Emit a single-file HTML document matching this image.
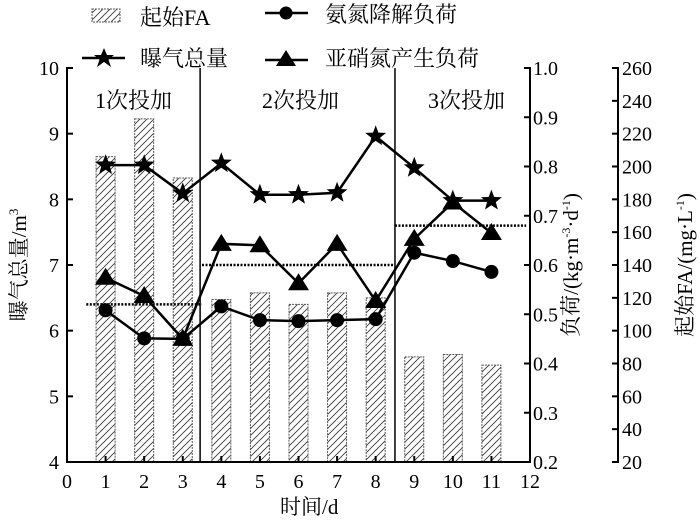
<!DOCTYPE html>
<html><head><meta charset="utf-8"><style>
body{margin:0;background:#fff}
svg text{font-family:"Liberation Serif","Noto Serif CJK SC",serif;fill:#000}
</style></head><body>
<svg id="chart" width="700" height="524" xmlns="http://www.w3.org/2000/svg">
<defs><pattern id="hatch" patternUnits="userSpaceOnUse" width="7" height="7"><path d="M-1,8 L8,-1 M-1,1 L1,-1 M6,8 L8,6" stroke="#333" stroke-width="0.8"/></pattern></defs>
<g id="plot"></g>
</svg>
<script>
const days=[1,2,3,4,5,6,7,8,9,10,11];
const faValues=[206,229,193,119,123,116,123,120,84,85.5,79];
const aeration=[8.52,8.52,8.09,8.55,8.07,8.07,8.1,8.96,8.48,7.98,7.98];
const ammoniaLoad=[0.508,0.451,0.45,0.516,0.488,0.486,0.488,0.49,0.625,0.608,0.586];
const nitriteLoad=[0.574,0.537,0.45,0.643,0.64,0.563,0.643,0.527,0.653,0.727,0.665];
const phaseAvg=[[0.5,3.5,0.52],[3.5,8.5,0.6],[8.5,11.9,0.68]];
const phaseBounds=[3.45,8.5];
const phaseLabels=["1次投加","2次投加","3次投加"];
const xTicks=[0,1,2,3,4,5,6,7,8,9,10,11,12];
const leftTicks=[4,5,6,7,8,9,10];
const loadTicks=[0.2,0.3,0.4,0.5,0.6,0.7,0.8,0.9,1.0];
const faTicks=[20,40,60,80,100,120,140,160,180,200,220,240,260];
const X0=67,X1=530,Y0=462,Y1=68,AX3=618;
const sx=v=>X0+(X1-X0)*v/12;
const syL=v=>Y0-(Y0-Y1)*(v-4)/6;
const syR=v=>Y0-(Y0-Y1)*(v-0.2)/0.8;
const syF=v=>Y0-(Y0-Y1)*(v-20)/240;
const g=document.getElementById('plot');const NS="http://www.w3.org/2000/svg";
function el(t,a,p){const e=document.createElementNS(NS,t);for(const k in a)e.setAttribute(k,a[k]);(p||g).appendChild(e);return e;}
function txt(x,y,s,a){const e=el('text',Object.assign({x:x,y:y,'font-size':20},a||{}));e.textContent=s;return e;}
// bars
const bars=el('g',{});
days.forEach((d,i)=>{const y=syF(faValues[i]);const b=el('rect',{x:sx(d)-9.5,y:y,width:19,height:Y0-y,fill:'url(#hatch)',stroke:'#555','stroke-width':1,'stroke-dasharray':'2,1'},bars);
});
// phase lines
phaseBounds.forEach((p,i)=>{const l=el('line',{x1:sx(p),x2:sx(p),y1:Y1,y2:Y0,stroke:'#000','stroke-width':1.5});});
phaseAvg.forEach(p=>{const l=el('line',{x1:sx(p[0]),x2:sx(p[1]),y1:syR(p[2]),y2:syR(p[2]),stroke:'#000','stroke-width':2.5,'stroke-dasharray':'2,1.5'});});
const lx=[95,262,428];
phaseLabels.forEach((s,i)=>{const t=txt(lx[i],108,s,{'font-size':22});});
// series
function star(cx,cy,r,p){let pts=[];for(let k=0;k<10;k++){const rr=k%2?r*0.42:r;const a=-Math.PI/2+k*Math.PI/5;pts.push((cx+rr*Math.cos(a)).toFixed(1)+','+(cy+rr*Math.sin(a)).toFixed(1));}return el('polygon',{points:pts.join(' '),fill:'#000'},p);}
function tri(cx,cy,r,p){return el('polygon',{points:`${cx},${cy-r} ${cx+r*1.05},${cy+r*0.7} ${cx-r*1.05},${cy+r*0.7}`,fill:'#000'},p);}
function series(vals,sy,name,mk){const s=el('g',{});
el('polyline',{points:days.map((d,i)=>sx(d)+','+sy(vals[i])).join(' '),fill:'none',stroke:'#000','stroke-width':2.5},s);
days.forEach((d,i)=>{const m=mk(sx(d),sy(vals[i]),s);});}
series(aeration,syL,'aeration-series',(x,y,p)=>star(x,y,11,p));
series(nitriteLoad,syR,'nitrite-series',(x,y,p)=>tri(x,y,10,p));
series(ammoniaLoad,syR,'ammonia-series',(x,y,p)=>el('circle',{cx:x,cy:y,r:7,fill:'#000'},p));
// axes
const ax=el('g',{stroke:'#000','stroke-width':2,fill:'none'});
el('path',{d:`M${X0+6},${Y1}H${X0}V${Y0}H${X1}V${Y1}H${X1-6}`},ax);
el('path',{d:`M${AX3-6},${Y1}H${AX3}V${Y0}H${AX3-6}`},ax);
xTicks.forEach(v=>{el('line',{x1:sx(v),x2:sx(v),y1:Y0,y2:Y0-6},ax);const t=txt(sx(v),488,v,{'text-anchor':'middle'});});
leftTicks.forEach(v=>{el('line',{x1:X0,x2:X0+6,y1:syL(v),y2:syL(v)},ax);const t=txt(X0-8,syL(v)+7,v,{'text-anchor':'end'});});
loadTicks.forEach(v=>{el('line',{x1:X1,x2:X1-6,y1:syR(v),y2:syR(v)},ax);const t=txt(X1+3,syR(v)+7,v.toFixed(1));});
faTicks.forEach(v=>{el('line',{x1:AX3,x2:AX3-6,y1:syF(v),y2:syF(v)},ax);const t=txt(AX3+4,syF(v)+7,v);});
</script>
<svg style="position:absolute;left:0;top:0" width="700" height="524" xmlns="http://www.w3.org/2000/svg">
<g font-size="21">
<rect x="92" y="9" width="28" height="13" fill="url(#hatch)" stroke="#555" stroke-dasharray="2,1"/>
<text x="140" y="25" font-size="22">起始FA</text>
<line x1="265" x2="308" y1="13" y2="13" stroke="#000" stroke-width="2.5"/><circle cx="286" cy="13" r="6.5"/>
<text x="325" y="22" font-size="22">氨氮降解负荷</text>
<line x1="82" x2="125" y1="58" y2="58" stroke="#000" stroke-width="2.5"/>
<polygon points="104,48 107,55 114,55 108.5,59.5 111,67 104,62 97,67 99.5,59.5 94,55 101,55"/>
<text x="140" y="66" font-size="22">曝气总量</text>
<line x1="265" x2="308" y1="60" y2="60" stroke="#000" stroke-width="2.5"/><polygon points="286,50 296,66 276,66"/>
<text x="325" y="66" font-size="22">亚硝氮产生负荷</text>
</g>
<text x="280" y="514" font-size="21">时间/d</text>
<text transform="translate(26,265) rotate(-90)" text-anchor="middle" font-size="21">曝气总量/m<tspan font-size="13" dy="-8">3</tspan></text>
<text transform="translate(578,265) rotate(-90)" text-anchor="middle" font-size="21">负荷/(kg·m<tspan font-size="12" dy="-8">-3</tspan><tspan dy="8">·d</tspan><tspan font-size="12" dy="-8">-1</tspan><tspan dy="8">)</tspan></text>
<text transform="translate(692,265) rotate(-90)" text-anchor="middle" font-size="21">起始FA/(mg·L<tspan font-size="12" dy="-8">-1</tspan><tspan dy="8">)</tspan></text>
</svg>
</body></html>
